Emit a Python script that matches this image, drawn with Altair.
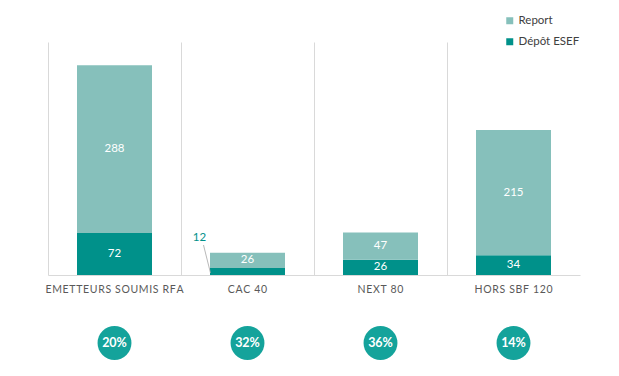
import altair as alt
import pandas as pd

categories = ["EMETTEURS SOUMIS RFA", "CAC 40", "NEXT 80", "HORS SBF 120"]
depot = [72, 12, 26, 34]
report = [288, 26, 47, 215]
pct_labels = ["20%", "32%", "36%", "14%"]
series = ["Report", "Dépôt ESEF"]
colors = ["#86C0BB", "#00918A"]

FONT = "Lato"

rows = []
for c, d, r in zip(categories, depot, report):
    rows.append({"cat": c, "series": "Dépôt ESEF", "value": d, "ord": 0, "mid": d / 2})
    rows.append({"cat": c, "series": "Report", "value": r, "ord": 1, "mid": d + r / 2})
df = pd.DataFrame(rows)
df_pct = pd.DataFrame({"cat": categories, "pct": pct_labels})
df_small = df[df["value"] < 20].copy()
df_small["zero"] = 0

xenc = alt.X("cat:N", sort=categories,
             scale=alt.Scale(paddingInner=0, paddingOuter=0),
             axis=alt.Axis(title=None, labelAngle=0, ticks=False, domain=True,
                           domainColor="#D9D9D9", grid=True, gridColor="#D9D9D9",
                           bandPosition=0, labelFont=FONT, labelFontSize=10.5,
                           labelColor="#595959", labelPadding=9,
                           labelExpr="join(split(datum.label, ''), '\u200a')"))
yscale = alt.Scale(domain=[0, 400])

bars = alt.Chart(df).mark_bar(width=75).encode(
    x=xenc,
    y=alt.Y("value:Q", stack="zero", scale=yscale, axis=None),
    color=alt.Color("series:N", scale=alt.Scale(domain=series, range=colors),
                    legend=alt.Legend(title=None, orient="none", legendX=456, legendY=-27,
                                      symbolType="square", symbolSize=49,
                                      symbolStrokeWidth=0, labelFont=FONT,
                                      labelFontSize=11.5, labelColor="#404040",
                                      rowPadding=8, labelOffset=3)),
    order=alt.Order("ord:Q"),
)

inside = alt.Chart(df[df["value"] >= 20]).mark_text(
    color="white", font=FONT, fontSize=11.5, baseline="middle"
).encode(
    x=alt.X("cat:N", sort=categories),
    y=alt.Y("mid:Q", scale=yscale),
    text="value:Q",
)

outside_text = alt.Chart(df_small).mark_text(
    color="#00918A", font=FONT, fontSize=11.5, baseline="middle", dx=-48, dy=-30
).encode(
    x=alt.X("cat:N", sort=categories),
    y=alt.Y("value:Q", scale=yscale),
    text="value:Q",
)

leader = alt.Chart(df_small).mark_rule(
    color="#A6A6A6", strokeWidth=0.8, xOffset=-37, x2Offset=-44, yOffset=-2, y2Offset=-23
).encode(
    x=alt.X("cat:N", sort=categories),
    x2="cat:N",
    y=alt.Y("zero:Q", scale=yscale),
    y2="value:Q",
)

circles = alt.Chart(df_pct).mark_circle(color="#14A39B", opacity=1, size=1150).encode(
    x=alt.X("cat:N", sort=categories),
    y=alt.value(301),
)
circle_text = alt.Chart(df_pct).mark_text(
    color="white", font=FONT, fontSize=12.5, fontWeight="bold", baseline="middle"
).encode(
    x=alt.X("cat:N", sort=categories),
    y=alt.value(301),
    text="pct:N",
)

chart = alt.layer(bars, inside, outside_text, leader, circles, circle_text).properties(
    width=532, height=233,
    autosize=alt.AutoSizeParams(type="none"),
    padding={"left": 48, "top": 42, "right": 39, "bottom": 101},
).configure_view(stroke=None)

chart.save("out.html", embed_options={"renderer": "svg", "actions": False})
